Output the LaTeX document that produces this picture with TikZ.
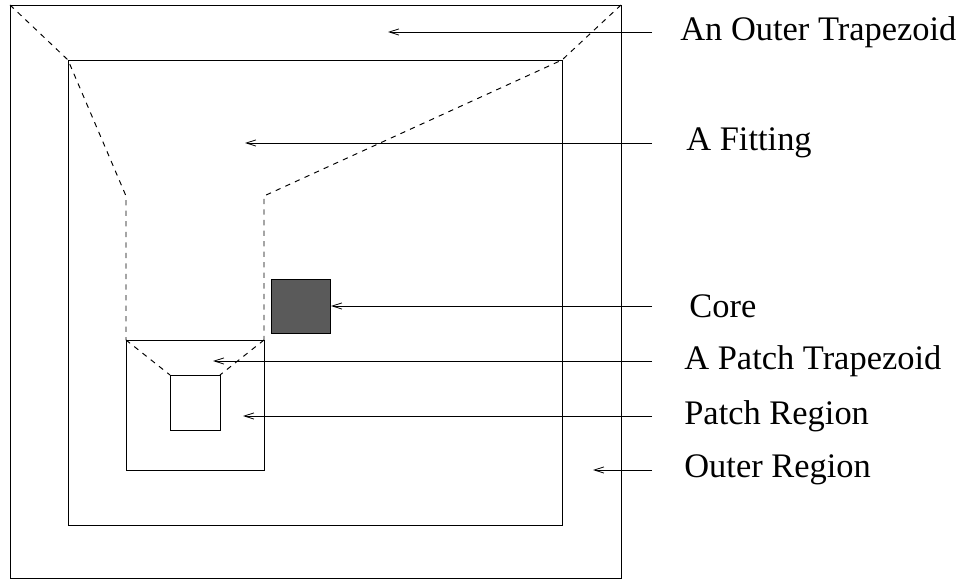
\documentclass[tikz,border=0pt]{standalone}
\usepackage{fontspec}
\setmainfont{Liberation Serif}
\usetikzlibrary{arrows.meta}
\definecolor{corefill}{HTML}{5A5A5A}

\begin{document}
\begin{tikzpicture}[
  x=0.02cm, y=-0.02cm,
  region/.style  = {draw, line width=0.55pt},
  fitline/.style = {draw, dash pattern=on 3pt off 3pt, line width=0.55pt},
  note/.style    = {anchor=west, inner xsep=0.64cm, inner ysep=0pt,
                    font=\fontsize{19.6}{23}\selectfont},
  pointer/.style = {->, line width=0.45pt},
  >={Straight Barb[length=5.5pt, width=3.5pt]}
]
\useasboundingbox (0,0) rectangle (965,584);
% Outer region and fitting box
\draw[region] (10,5) rectangle (621,578);
\draw[region] (68,60) rectangle (562,525);
% Dashed fitting outline
\draw[fitline] (10,5) -- (68,60) -- (126,196) -- (126,340);
\draw[fitline] (621,5) -- (562,60) -- (264,196) -- (264,340);
% Patch region
\draw[region] (126,340) rectangle (264,470);
\draw[region] (170,375) rectangle (220,430);
\draw[fitline] (126,340) -- (170,375);
\draw[fitline] (264,340) -- (220,375);
% Core
\draw[region, fill=corefill] (271,279) rectangle (330,333);
% Pointer ends
\coordinate (ptrap) at (388,32);
\coordinate (pfit)  at (245,143);
\coordinate (pcore) at (331,306);
\coordinate (ppatr) at (213,361);
\coordinate (ppreg) at (243,416);
\coordinate (poreg) at (593,470);
% Labels
\node[note, inner xsep=0.56cm] (outtrap) at (652,32)  {An Outer Trapezoid};
\node[note, inner xsep=0.68cm] (fitting) at (652,143) {A Fitting};
\node[note, inner xsep=0.74cm] (core)    at (652,306) {Core};
\node[note] (patchtrap) at (652,361) {A Patch Trapezoid};
\node[note] (patchreg)  at (652,416) {Patch Region};
\node[note] (outreg)    at (652,470) {Outer Region};
% Pointers
\draw[pointer] (outtrap.west)   -- (ptrap);
\draw[pointer] (fitting.west)   -- (pfit);
\draw[pointer] (core.west)      -- (pcore);
\draw[pointer] (patchtrap.west) -- (ppatr);
\draw[pointer] (patchreg.west)  -- (ppreg);
\draw[pointer] (outreg.west)    -- (poreg);
\end{tikzpicture}
\end{document}
